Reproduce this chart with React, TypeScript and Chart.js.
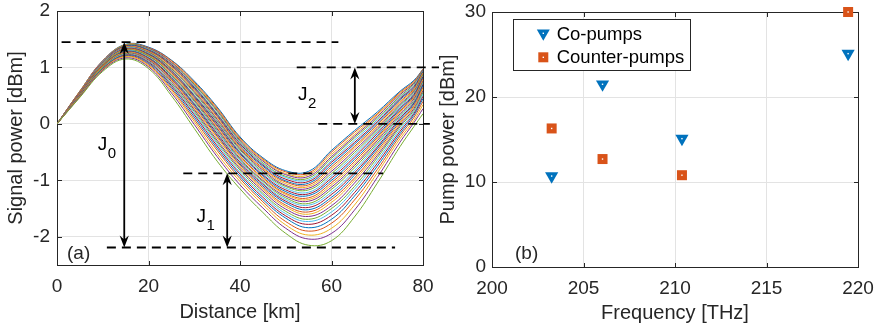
import React, { useEffect, useRef } from 'react';
import { Chart, registerables } from 'chart.js';

Chart.register(...registerables);

const FONT = '"Liberation Sans", Arial, Helvetica, sans-serif';

// ---------- Panel (a): signal power vs distance ----------
const distanceKm = [0, 5, 10, 15, 20, 25, 30, 35, 40, 45, 50, 55, 60, 65, 70, 75, 78, 80];
const signalPowerDbm: number[][] = [
  [0, .58, 1.12, 1.41, 1.36, 1.13, .76, .30, -.23, -.60, -.83, -.84, -.47, -.12, .21, .58, .77, .97],
  [0, .58, 1.12, 1.40, 1.35, 1.12, .74, .28, -.25, -.62, -.85, -.87, -.50, -.15, .18, .56, .75, .97],
  [0, .58, 1.11, 1.40, 1.34, 1.10, .72, .26, -.27, -.64, -.88, -.90, -.54, -.19, .16, .54, .73, .96],
  [0, .57, 1.11, 1.39, 1.34, 1.09, .70, .24, -.29, -.66, -.90, -.93, -.58, -.22, .13, .52, .72, .96],
  [0, .57, 1.10, 1.39, 1.33, 1.07, .69, .22, -.31, -.69, -.93, -.96, -.61, -.25, .10, .49, .70, .95],
  [0, .57, 1.10, 1.38, 1.32, 1.06, .67, .19, -.33, -.71, -.95, -.99, -.65, -.29, .07, .47, .68, .94],
  [0, .57, 1.09, 1.38, 1.31, 1.05, .65, .17, -.35, -.73, -.98, -1.02, -.68, -.33, .04, .45, .66, .93],
  [0, .56, 1.09, 1.37, 1.30, 1.03, .63, .15, -.38, -.75, -1.01, -1.05, -.72, -.36, .01, .43, .64, .92],
  [0, .56, 1.09, 1.36, 1.29, 1.02, .61, .13, -.40, -.78, -1.03, -1.08, -.76, -.40, -.02, .40, .62, .91],
  [0, .56, 1.08, 1.36, 1.28, 1.00, .59, .10, -.42, -.80, -1.06, -1.11, -.80, -.43, -.05, .38, .60, .90],
  [0, .55, 1.08, 1.35, 1.27, .98, .57, .08, -.44, -.82, -1.09, -1.14, -.84, -.47, -.08, .35, .58, .88],
  [0, .55, 1.07, 1.34, 1.26, .97, .55, .05, -.46, -.85, -1.11, -1.17, -.88, -.51, -.11, .33, .56, .87],
  [0, .55, 1.07, 1.34, 1.25, .95, .52, .03, -.49, -.87, -1.14, -1.21, -.92, -.55, -.14, .31, .54, .85],
  [0, .55, 1.06, 1.33, 1.24, .94, .50, .01, -.51, -.90, -1.17, -1.24, -.96, -.59, -.17, .28, .52, .84],
  [0, .54, 1.06, 1.32, 1.23, .92, .48, -.02, -.53, -.92, -1.20, -1.27, -1.00, -.63, -.21, .26, .50, .82],
  [0, .54, 1.05, 1.32, 1.22, .91, .46, -.04, -.56, -.95, -1.23, -1.31, -1.04, -.67, -.24, .23, .48, .80],
  [0, .54, 1.05, 1.31, 1.21, .89, .44, -.07, -.58, -.97, -1.25, -1.34, -1.08, -.71, -.27, .21, .46, .78],
  [0, .54, 1.04, 1.30, 1.20, .87, .42, -.09, -.61, -1.00, -1.28, -1.37, -1.12, -.74, -.30, .18, .44, .76],
  [0, .53, 1.04, 1.30, 1.20, .86, .40, -.12, -.63, -1.02, -1.31, -1.41, -1.16, -.78, -.34, .15, .41, .74],
  [0, .53, 1.03, 1.29, 1.18, .84, .37, -.14, -.65, -1.05, -1.34, -1.44, -1.21, -.83, -.37, .13, .39, .72],
  [0, .53, 1.03, 1.28, 1.17, .82, .35, -.17, -.68, -1.07, -1.37, -1.48, -1.25, -.87, -.41, .10, .37, .70],
  [0, .52, 1.02, 1.28, 1.16, .80, .33, -.20, -.71, -1.10, -1.40, -1.52, -1.30, -.91, -.44, .07, .35, .68],
  [0, .52, 1.02, 1.27, 1.15, .79, .30, -.22, -.73, -1.13, -1.44, -1.56, -1.34, -.96, -.48, .04, .32, .65],
  [0, .52, 1.01, 1.26, 1.14, .77, .27, -.25, -.76, -1.16, -1.47, -1.60, -1.39, -1.00, -.52, .01, .30, .62],
  [0, .51, 1.00, 1.25, 1.13, .75, .25, -.29, -.79, -1.19, -1.51, -1.64, -1.45, -1.05, -.56, -.02, .27, .59],
  [0, .51, 1.00, 1.24, 1.11, .72, .22, -.32, -.82, -1.23, -1.55, -1.69, -1.50, -1.11, -.60, -.05, .24, .56],
  [0, .50, .99, 1.23, 1.10, .70, .19, -.35, -.86, -1.26, -1.59, -1.73, -1.56, -1.16, -.65, -.09, .21, .53],
  [0, .50, .98, 1.22, 1.09, .68, .16, -.39, -.89, -1.30, -1.63, -1.78, -1.62, -1.22, -.70, -.13, .18, .49],
  [0, .50, .98, 1.21, 1.07, .65, .12, -.43, -.93, -1.34, -1.67, -1.84, -1.69, -1.28, -.75, -.17, .15, .45],
  [0, .49, .97, 1.20, 1.05, .62, .08, -.47, -.97, -1.38, -1.73, -1.90, -1.76, -1.35, -.81, -.21, .11, .40],
  [0, .49, .96, 1.19, 1.03, .59, .04, -.53, -1.02, -1.43, -1.79, -1.97, -1.85, -1.44, -.87, -.26, .06, .34],
  [0, .48, .95, 1.17, 1.01, .55, -.01, -.58, -1.08, -1.49, -1.85, -2.04, -1.94, -1.53, -.95, -.32, .02, .27],
  [0, .47, .93, 1.15, .98, .50, -.08, -.66, -1.15, -1.57, -1.94, -2.15, -2.07, -1.65, -1.05, -.40, -.05, .18],
];
const distanceTicks = [0, 20, 40, 60, 80];
const signalTicks = [-2, -1, 0, 1, 2];
const lineColors = ['#0072BD', '#D95319', '#EDB120', '#7E2F8E', '#77AC30', '#4DBEEE', '#A2142F'];

// annotation geometry in data units (km, dBm)
const dashedY = [1.45, -2.19, -0.875, 1.0, 0];
const dashedX0 = [1.0, 10.9, 27.6, 52.4, 57.1];
const dashedX1 = [61.5, 73.9, 71.3, 83.5, 81.5];
const arrowX = [14.7, 37.2, 65.1];
const arrowTop = [1.45, -0.875, 1.0];
const arrowBottom = [-2.19, -2.19, 0];
const jSubscripts = ['0', '1', '2'];
const jLabelX = [8.9, 30.5, 52.7];
const jLabelY = [-0.46, -1.73, 0.42];

// ---------- Panel (b): pump power vs frequency ----------
const pumpFreqTHz = [203.26, 206.04, 210.38, 219.46];
const coPumpDbm = [10.7, 21.5, 15.1, 25.1];
const counterPumpDbm = [16.3, 12.7, 10.8, 30.0];
const freqTicks = [200, 205, 210, 215, 220];
const pumpTicks = [0, 10, 20, 30];
const seriesNames = ['Co-pumps', 'Counter-pumps'];
const seriesColors = ['#0072BD', '#D95319'];

const AXIS_COLOR = '#262626';
const GRID_COLOR = '#e3e3e3';

const framePlugin = {
  id: 'matlabFrame',
  beforeDatasetsDraw(chart: any) {
    const { ctx, chartArea: a, scales } = chart;
    ctx.save();
    ctx.strokeStyle = AXIS_COLOR;
    ctx.lineWidth = 1;
    const L = Math.round(a.left) + 0.5, R = Math.round(a.right) + 0.5;
    const T = Math.round(a.top) + 0.5, B = Math.round(a.bottom) + 0.5;
    ctx.strokeRect(L, T, R - L, B - T);
    const t = 4.5;
    ctx.beginPath();
    scales.x.ticks.forEach((tk: any) => {
      const px = Math.round(scales.x.getPixelForValue(tk.value)) + 0.5;
      ctx.moveTo(px, B); ctx.lineTo(px, B - t);
      ctx.moveTo(px, T); ctx.lineTo(px, T + t);
    });
    scales.y.ticks.forEach((tk: any) => {
      const py = Math.round(scales.y.getPixelForValue(tk.value)) + 0.5;
      ctx.moveTo(L, py); ctx.lineTo(L + t, py);
      ctx.moveTo(R, py); ctx.lineTo(R - t, py);
    });
    ctx.stroke();
    ctx.restore();
  },
};

function arrowHead(ctx: CanvasRenderingContext2D, x: number, y: number, up: boolean) {
  const len = 12, half = 4.6, back = 8;
  const s = up ? 1 : -1;
  ctx.beginPath();
  ctx.moveTo(x, y);
  ctx.lineTo(x - half, y + s * len);
  ctx.lineTo(x, y + s * back);
  ctx.lineTo(x + half, y + s * len);
  ctx.closePath();
  ctx.fill();
}

const annotationPlugin = {
  id: 'jAnnotations',
  afterDatasetsDraw(chart: any) {
    const { ctx, scales: { x, y }, chartArea } = chart;
    ctx.save();
    ctx.strokeStyle = '#000';
    ctx.fillStyle = '#000';
    ctx.lineWidth = 1.8;
    ctx.setLineDash([9, 6]);
    dashedY.forEach((v, i) => {
      const py = y.getPixelForValue(v);
      ctx.beginPath();
      ctx.moveTo(x.getPixelForValue(dashedX0[i]), py);
      ctx.lineTo(x.getPixelForValue(dashedX1[i]), py);
      ctx.stroke();
    });
    ctx.setLineDash([]);
    arrowX.forEach((xv, i) => {
      const px = x.getPixelForValue(xv);
      const pt = y.getPixelForValue(arrowTop[i]);
      const pb = y.getPixelForValue(arrowBottom[i]);
      ctx.beginPath();
      ctx.moveTo(px, pt + 6);
      ctx.lineTo(px, pb - 6);
      ctx.stroke();
      arrowHead(ctx, px, pt, true);
      arrowHead(ctx, px, pb, false);
    });
    ctx.fillStyle = '#000';
    ctx.textBaseline = 'alphabetic';
    ctx.textAlign = 'left';
    jSubscripts.forEach((sub, i) => {
      const px = x.getPixelForValue(jLabelX[i]);
      const py = y.getPixelForValue(jLabelY[i]);
      ctx.font = `19px ${FONT}`;
      ctx.fillText('J', px, py);
      const w = ctx.measureText('J').width;
      ctx.font = `15px ${FONT}`;
      ctx.fillText(sub, px + w + 0.5, py + 8);
    });
    ctx.font = `19px ${FONT}`;
    ctx.fillStyle = AXIS_COLOR;
    ctx.fillText('(a)', chartArea.left + 10, chartArea.bottom - 6);
    ctx.restore();
  },
};

function drawTriangleDown(ctx: CanvasRenderingContext2D, x: number, y: number, r: number) {
  ctx.beginPath();
  ctx.moveTo(x, y + r);
  ctx.lineTo(x - 0.866 * r, y - 0.5 * r);
  ctx.lineTo(x + 0.866 * r, y - 0.5 * r);
  ctx.closePath();
  ctx.fill();
}

const pumpDecorPlugin = {
  id: 'pumpDecor',
  afterDatasetsDraw(chart: any) {
    const { ctx, chartArea: a } = chart;
    ctx.save();
    // white centre dots on markers
    ctx.fillStyle = '#ffffff';
    chart.data.datasets.forEach((_d: any, di: number) => {
      chart.getDatasetMeta(di).data.forEach((el: any) => {
        ctx.fillRect(el.x - 0.7, el.y - 0.7, 1.4, 1.4);
      });
    });
    // legend box
    const bx = a.left + 21.3, by = a.top + 7.3, bw = 176.7, bh = 50.7;
    ctx.fillStyle = '#ffffff';
    ctx.fillRect(bx, by, bw, bh);
    ctx.strokeStyle = AXIS_COLOR;
    ctx.lineWidth = 1;
    ctx.strokeRect(Math.round(bx) + 0.5, Math.round(by) + 0.5, Math.round(bw), Math.round(bh));
    const symX = a.left + 51.3;
    const rowY = [a.top + 22.3, a.top + 45.3];
    ctx.fillStyle = seriesColors[0];
    drawTriangleDown(ctx, symX, rowY[0] - 1, 7.5);
    ctx.fillStyle = seriesColors[1];
    ctx.fillRect(symX - 5, rowY[1] - 5, 10, 10);
    ctx.fillStyle = '#ffffff';
    ctx.fillRect(symX - 0.7, rowY[0] - 1.7, 1.4, 1.4);
    ctx.fillRect(symX - 0.7, rowY[1] - 0.7, 1.4, 1.4);
    ctx.fillStyle = '#000';
    ctx.font = `18.5px ${FONT}`;
    ctx.textBaseline = 'middle';
    ctx.textAlign = 'left';
    seriesNames.forEach((n, i) => ctx.fillText(n, a.left + 64.7, rowY[i] + 1));
    ctx.font = `19px ${FONT}`;
    ctx.fillStyle = AXIS_COLOR;
    ctx.textBaseline = 'alphabetic';
    ctx.fillText('(b)', a.left + 23, a.bottom - 8);
    ctx.restore();
  },
};

function axisCommon(ticks: number[], fitSize: number, horizontal: boolean, title: string, titlePad: any, tickPad: number) {
  return {
    type: 'linear' as const,
    afterBuildTicks: (s: any) => { s.ticks = ticks.map((v) => ({ value: v })); },
    afterFit: (s: any) => {
      if (horizontal) s.height = fitSize; else s.width = fitSize;
      s.paddingTop = 0; s.paddingBottom = 0; s.paddingLeft = 0; s.paddingRight = 0;
    },
    grid: { color: GRID_COLOR, lineWidth: 1, drawTicks: false },
    border: { display: false },
    ticks: {
      color: AXIS_COLOR, padding: tickPad, autoSkip: false, maxRotation: 0,
      font: { family: FONT, size: 19 },
      callback: (v: any) => String(v),
    },
    title: { display: true, text: title, color: AXIS_COLOR, font: { family: FONT, size: 20 }, padding: titlePad },
  };
}

function LeftChart() {
  const ref = useRef<HTMLCanvasElement>(null);
  useEffect(() => {
    const datasets = signalPowerDbm.map((vals, k) => ({
      label: `curve ${k + 1}`,
      data: vals.map((v, i) => ({ x: distanceKm[i], y: v })),
      borderColor: lineColors[k % lineColors.length],
      backgroundColor: lineColors[k % lineColors.length],
      borderWidth: 1,
      pointRadius: 0,
      tension: 0.4,
      fill: false,
      order: signalPowerDbm.length - k,
    }));
    const chart = new Chart(ref.current!, {
      type: 'line',
      data: { datasets },
      options: {
        responsive: false,
        animation: false,
        devicePixelRatio: 1,
        layout: { padding: { left: 0, top: 11, right: 17, bottom: 0 } },
        plugins: { legend: { display: false }, tooltip: { enabled: false } },
        scales: {
          x: { ...axisCommon(distanceTicks, 64, true, 'Distance [km]', { top: 0, bottom: 5 }, 10), min: 0, max: 80 },
          y: { ...axisCommon(signalTicks, 57, false, 'Signal power [dBm]', { top: 4, bottom: 0 }, 7), min: -2.5, max: 2 },
        },
      },
      plugins: [annotationPlugin, framePlugin],
    } as any);
    return () => chart.destroy();
  }, []);
  return <canvas ref={ref} width={440} height={329} style={{ position: 'absolute', left: 0, top: 0 }} />;
}

function RightChart() {
  const ref = useRef<HTMLCanvasElement>(null);
  useEffect(() => {
    const chart = new Chart(ref.current!, {
      type: 'scatter',
      data: {
        datasets: [
          {
            label: seriesNames[0],
            data: pumpFreqTHz.map((f, i) => ({ x: f, y: coPumpDbm[i] })),
            pointStyle: 'triangle',
            rotation: 180,
            pointRadius: 7.6,
            backgroundColor: seriesColors[0],
            borderColor: seriesColors[0],
            borderWidth: 0,
            clip: false,
          },
          {
            label: seriesNames[1],
            data: pumpFreqTHz.map((f, i) => ({ x: f, y: counterPumpDbm[i] })),
            pointStyle: 'rect',
            pointRadius: 7.07,
            backgroundColor: seriesColors[1],
            borderColor: seriesColors[1],
            borderWidth: 0,
            clip: false,
          },
        ],
      },
      options: {
        responsive: false,
        animation: false,
        devicePixelRatio: 1,
        layout: { padding: { left: 0, top: 12, right: 19, bottom: 0 } },
        plugins: { legend: { display: false }, tooltip: { enabled: false } },
        scales: {
          x: { ...axisCommon(freqTicks, 62, true, 'Frequency [THz]', { top: 0, bottom: 4 }, 10), min: 200, max: 220 },
          y: { ...axisCommon(pumpTicks, 56, false, 'Pump power [dBm]', { top: 0, bottom: 0 }, 6), min: 0, max: 30 },
        },
      },
      plugins: [pumpDecorPlugin, framePlugin],
    } as any);
    return () => chart.destroy();
  }, []);
  return <canvas ref={ref} width={441} height={329} style={{ position: 'absolute', left: 436, top: 0 }} />;
}

export default function App() {
  return (
    <div style={{ position: 'fixed', left: 0, top: 0, width: 877, height: 329, background: '#ffffff', overflow: 'hidden' }}>
      <LeftChart />
      <RightChart />
    </div>
  );
}
